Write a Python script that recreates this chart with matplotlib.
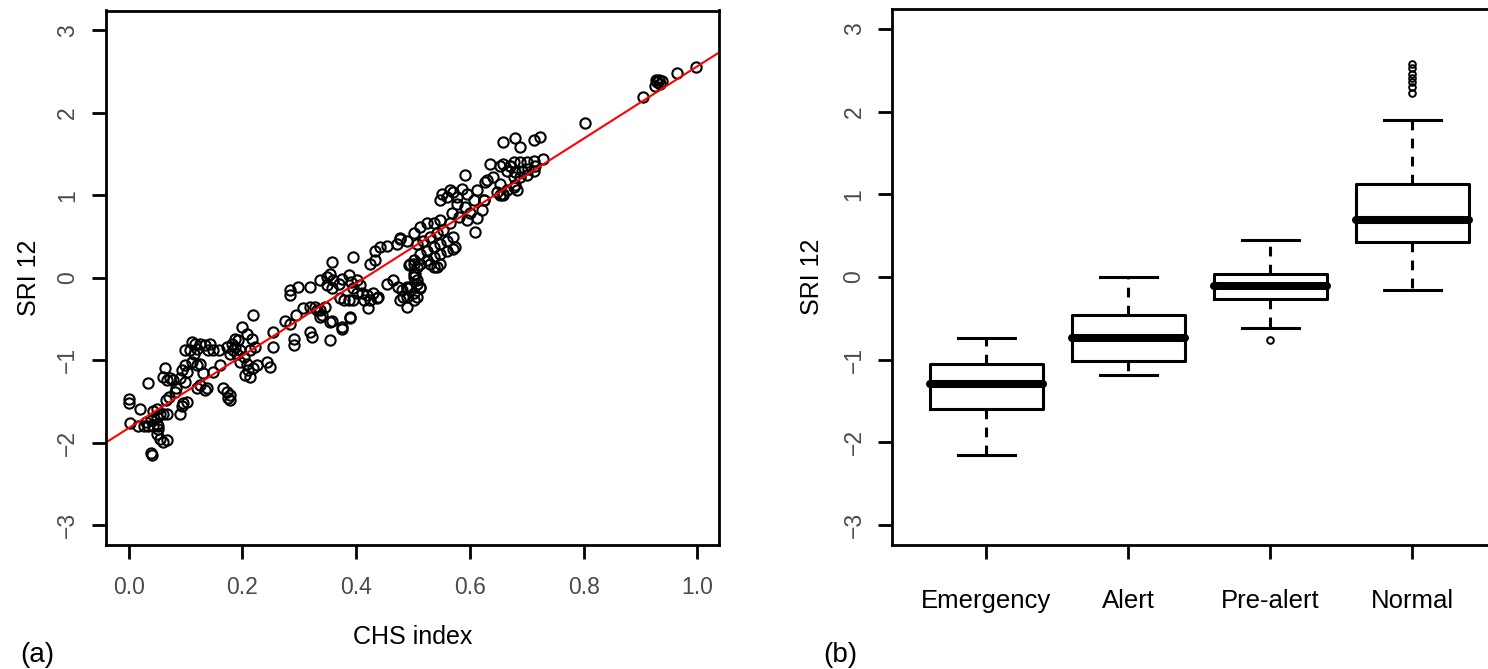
import matplotlib
matplotlib.use('Agg')
import matplotlib.pyplot as plt

plt.rcParams['font.family'] = ['Liberation Sans', 'DejaVu Sans']
plt.rcParams['lines.scale_dashes'] = False

# ---------------- panel (a): scatter data ----------------
chs_index = [
    0.000, 0.000, 0.020, 0.034, 0.002, 0.017, 0.026, 0.034, 0.043, 0.052,
    0.031, 0.040, 0.049, 0.055, 0.043, 0.049, 0.061, 0.067, 0.049, 0.055,
    0.061, 0.067, 0.040, 0.041, 0.052, 0.049, 0.065, 0.070, 0.061, 0.064,
    0.067, 0.073, 0.090, 0.096, 0.102, 0.078, 0.084, 0.090, 0.099, 0.093,
    0.099, 0.102, 0.081, 0.099, 0.111, 0.117, 0.108, 0.114, 0.120, 0.111,
    0.120, 0.125, 0.125, 0.134, 0.143, 0.140, 0.149, 0.158, 0.131, 0.137,
    0.125, 0.120, 0.134, 0.093, 0.149, 0.161, 0.166, 0.172, 0.178, 0.178,
    0.175, 0.172, 0.181, 0.187, 0.193, 0.184, 0.178, 0.190, 0.196, 0.187,
    0.199, 0.208, 0.216, 0.222, 0.213, 0.202, 0.196, 0.208, 0.210, 0.219,
    0.205, 0.213, 0.225, 0.243, 0.249, 0.219, 0.254, 0.254,
    0.275, 0.284, 0.295, 0.290, 0.290, 0.319, 0.322, 0.328, 0.337, 0.346,
    0.354, 0.357, 0.375, 0.389, 0.421, 0.337, 0.284, 0.284, 0.298, 0.319,
    0.357, 0.395, 0.336, 0.348, 0.354, 0.360, 0.348, 0.357, 0.369, 0.375,
    0.387, 0.390, 0.401, 0.407, 0.395, 0.401, 0.410, 0.419, 0.430, 0.439,
    0.378, 0.372, 0.387, 0.395, 0.413, 0.425, 0.307, 0.319, 0.331, 0.339,
    0.354, 0.375, 0.389, 0.436, 0.433, 0.442, 0.454, 0.471, 0.477, 0.489,
    0.424, 0.433, 0.454, 0.465, 0.474, 0.480, 0.483, 0.477, 0.489, 0.492,
    0.501, 0.504, 0.507, 0.501, 0.507,
    0.501, 0.512, 0.524, 0.536, 0.548, 0.507, 0.518, 0.530, 0.542, 0.553,
    0.512, 0.524, 0.536, 0.548, 0.559, 0.571, 0.501, 0.512, 0.524, 0.536,
    0.548, 0.559, 0.571, 0.536, 0.548, 0.501, 0.507, 0.495, 0.512, 0.489,
    0.501, 0.489, 0.477, 0.495, 0.507, 0.530, 0.542, 0.501, 0.512, 0.489,
    0.612, 0.621, 0.624, 0.607, 0.595, 0.586, 0.571, 0.559, 0.548, 0.551,
    0.577, 0.592, 0.568, 0.580, 0.595, 0.565, 0.592, 0.609, 0.574, 0.565,
    0.577, 0.612, 0.624, 0.600, 0.630, 0.641, 0.653, 0.665, 0.647, 0.659,
    0.677, 0.636, 0.653, 0.671, 0.627, 0.653,
    0.680, 0.688, 0.712, 0.724, 0.729, 0.659, 0.659, 0.671, 0.677, 0.688,
    0.700, 0.712, 0.715, 0.665, 0.680, 0.691, 0.703, 0.712, 0.677, 0.688,
    0.700, 0.680, 0.683, 0.659,
    0.803, 0.905, 0.925, 0.929, 0.933, 0.937, 0.927, 0.935, 0.964, 0.998,
]
sri12 = [
    -1.47, -1.52, -1.59, -1.28, -1.76, -1.80, -1.80, -1.80, -1.80, -1.80,
    -1.75, -1.73, -1.69, -1.65, -1.61, -1.59, -1.65, -1.65, -1.89, -1.95,
    -1.99, -1.97, -2.13, -2.15, -1.83, -1.77, -1.48, -1.44, -1.20, -1.10,
    -1.24, -1.22, -1.65, -1.52, -1.51, -1.24, -1.34, -1.22, -1.26, -1.12,
    -1.06, -1.14, -1.38, -0.88, -0.78, -0.80, -0.88, -0.92, -0.86, -1.02,
    -1.06, -1.04, -0.80, -0.82, -0.80, -0.88, -0.88, -0.88, -1.16, -1.34,
    -1.30, -1.34, -1.36, -1.55, -1.14, -1.06, -1.34, -1.38, -1.42, -1.48,
    -1.46, -0.84, -0.80, -0.74, -0.76, -0.88, -0.92, -0.92, -0.88, -0.84,
    -0.60, -0.68, -0.74, -0.84, -0.88, -0.96, -1.02, -1.04, -1.12, -1.10,
    -1.18, -1.20, -1.06, -1.02, -1.08, -0.45, -0.66, -0.84,
    -0.52, -0.56, -0.45, -0.74, -0.82, -0.66, -0.72, -0.35, -0.39, -0.35,
    -0.76, -0.52, -0.60, -0.48, -0.37, -0.48, -0.15, -0.21, -0.11, -0.11,
    0.19, 0.25, -0.03, 0.01, 0.05, -0.03, -0.09, -0.13, -0.07, -0.01,
    0.03, -0.05, -0.03, -0.09, -0.13, -0.19, -0.19, -0.21, -0.19, -0.23,
    -0.27, -0.25, -0.27, -0.27, -0.27, -0.27, -0.37, -0.35, -0.39, -0.45,
    -0.54, -0.62, -0.49, -0.25, 0.33, 0.37, 0.39, 0.41, 0.48, 0.45,
    0.17, 0.21, -0.07, -0.03, -0.11, -0.15, -0.23, -0.27, -0.13, 0.15,
    0.17, 0.05, -0.07, -0.19, -0.23,
    0.54, 0.62, 0.66, 0.66, 0.70, 0.41, 0.45, 0.49, 0.54, 0.58,
    0.29, 0.33, 0.37, 0.41, 0.45, 0.49, 0.21, 0.17, 0.21, 0.25,
    0.29, 0.33, 0.35, 0.13, 0.17, 0.05, -0.03, -0.11, -0.13, -0.23,
    -0.27, -0.35, 0.47, 0.17, 0.13, 0.17, 0.13, 0.01, -0.11, -0.11,
    0.72, 0.82, 0.94, 0.94, 1.02, 1.08, 1.04, 0.98, 0.94, 1.02,
    0.90, 0.86, 0.78, 0.74, 0.70, 0.66, 1.24, 0.56, 0.37, 1.06,
    0.98, 1.06, 0.94, 0.78, 1.18, 1.22, 1.14, 1.06, 1.04, 1.02,
    1.10, 1.38, 1.36, 1.36, 1.16, 1.00,
    1.69, 1.59, 1.67, 1.71, 1.44, 1.65, 1.38, 1.36, 1.40, 1.40,
    1.40, 1.42, 1.36, 1.30, 1.28, 1.30, 1.32, 1.30, 1.22, 1.22,
    1.24, 1.12, 1.06, 1.00,
    1.88, 2.19, 2.33, 2.37, 2.40, 2.38, 2.40, 2.35, 2.48, 2.55,
]
# fitted regression line
fit_intercept = -1.822
fit_slope = 4.386

x_ticks = [0.0, 0.2, 0.4, 0.6, 0.8, 1.0]
y_ticks = [-3, -2, -1, 0, 1, 2, 3]

# ---------------- panel (b): box plot data ----------------
classes = ['Emergency', 'Alert', 'Pre-alert', 'Normal']
whisker_low = [-2.15, -1.19, -0.62, -0.16]
q1 = [-1.59, -1.02, -0.26, 0.42]
median = [-1.29, -0.735, -0.11, 0.685]
q3 = [-1.05, -0.46, 0.04, 1.13]
whisker_high = [-0.735, 0.0, 0.45, 1.90]
outliers = [[], [], [-0.76], [2.22, 2.30, 2.36, 2.40, 2.45, 2.53, 2.57]]

# ---------------- figure ----------------
W, H = 1488, 669
fig = plt.figure(figsize=(W / 100, H / 100), dpi=100)


def px_axes(l, t, r, b):
    return fig.add_axes([l / W, 1 - b / H, (r - l) / W, (b - t) / H])


ax1 = px_axes(105.7, 10.5, 719, 545)
ax2 = px_axes(892, 9, 1506, 545)

tick_grey = '#4a4a4a'

# panel (a)
ax1.plot(chs_index, sri12, linestyle='none', marker='o', mfc='none',
         mec='black', ms=7.4, mew=1.5)
ax1.axline((0, fit_intercept), slope=fit_slope, color='red', lw=1.5)
ax1.set_xlim(-0.0405, 1.038)
ax1.set_ylim(-3.24, 3.24)
ax1.set_xticks(x_ticks)
ax1.set_xticklabels([f'{v:.1f}' for v in x_ticks])
ax1.set_xlabel('CHS index', fontsize=18)
ax1.xaxis.set_label_coords(0.5, -0.172)
ax1.xaxis.label.set_va('center')
ax1.set_ylabel('SRI 12', fontsize=18)
ax1.yaxis.set_label_coords(-0.125, 0.5)
ax1.yaxis.label.set_va('center')

# panel (b)
stats = []
for c, wl, a, m, b, wh, f in zip(classes, whisker_low, q1, median, q3,
                                 whisker_high, outliers):
    stats.append(dict(label=c, whislo=wl, q1=a, med=m, q3=b, whishi=wh,
                      fliers=f))
ax2.bxp(stats, positions=range(1, len(classes) + 1), widths=0.8,
        capwidths=0.4,
        boxprops=dict(lw=2.2, color='black'),
        medianprops=dict(lw=5.8, color='black', solid_capstyle='round'),
        whiskerprops=dict(lw=2.2, color='black', linestyle=(0, (7, 6))),
        capprops=dict(lw=2.2, color='black'),
        flierprops=dict(marker='o', mfc='none', mec='black', ms=4.8,
                        mew=1.4))
ax2.set_xlim(0.335, 4.66)
ax2.set_ylim(-3.24, 3.24)
ax2.set_ylabel('SRI 12', fontsize=18)
ax2.yaxis.set_label_coords(-0.13, 0.5)
ax2.yaxis.label.set_va('center')

for ax in (ax1, ax2):
    for s in ax.spines.values():
        s.set_linewidth(2.0)
    ax.set_yticks(y_ticks)
    ax.set_yticklabels([f'{v}'.replace('-', '\u2212') for v in y_ticks],
                       rotation=90, va='center')
    ax.tick_params(length=10, width=2.0, labelsize=16.5, labelcolor=tick_grey)
    ax.tick_params(axis='y', pad=9)

ax1.tick_params(axis='x', pad=12)
ax2.tick_params(axis='x', pad=22, labelsize=18.5, labelcolor='black')

fig.text(20 / W, 1 - 655 / H, '(a)', fontsize=20, ha='left', va='center')
fig.text(823 / W, 1 - 655 / H, '(b)', fontsize=20, ha='left', va='center')

fig.savefig('out.png', dpi=100)
